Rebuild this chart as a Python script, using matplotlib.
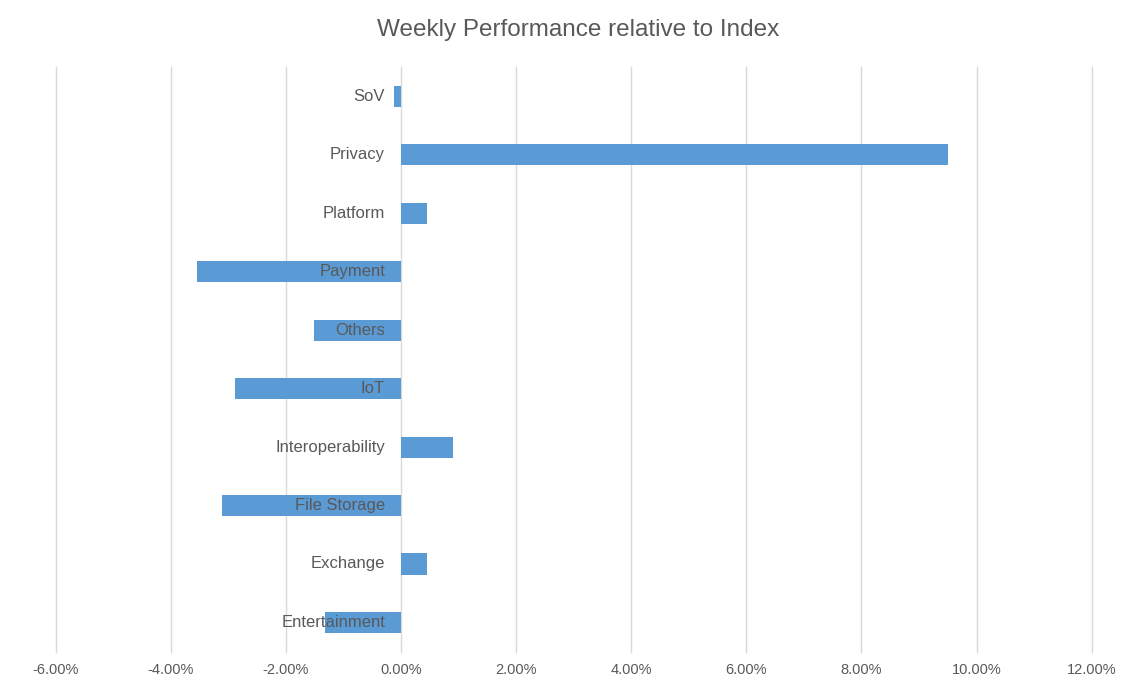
import matplotlib.pyplot as plt
from matplotlib.ticker import FuncFormatter

categories = ["Entertainment", "Exchange", "File Storage", "Interoperability", "IoT",
              "Others", "Payment", "Platform", "Privacy", "SoV"]
values = [-1.32, 0.46, -3.11, 0.90, -2.88, -1.52, -3.54, 0.45, 9.51, -0.13]

fig = plt.figure(figsize=(11.34, 6.95), dpi=100)
ax = fig.add_axes([0.0491, 0.0623, 0.9136, 0.8413])

pos = list(range(len(categories)))
ax.barh(pos, values, height=0.36, color="#5B9BD5", zorder=2)

ax.set_xlim(-6, 12)
ax.set_ylim(-0.5, len(categories) - 0.5)
ax.set_xticks(range(-6, 13, 2))
ax.xaxis.set_major_formatter(FuncFormatter(lambda v, p: "%.2f%%" % v))
ax.set_yticks([])
ax.grid(axis="x", color="#d9d9d9", linewidth=1, zorder=0)
for line in ax.get_xgridlines():
    line.set_clip_on(False)
for s in ax.spines.values():
    s.set_visible(False)
ax.tick_params(axis="x", length=0, pad=8, labelsize=10.5, labelcolor="#595959")
for lab in ax.get_xticklabels():
    lab.set_fontfamily("Liberation Sans")

for y, name in zip(pos, categories):
    ax.annotate(name, xy=(0, y), xytext=(-11.5, 0), textcoords="offset points",
                ha="right", va="center", fontsize=12, color="#595959",
                family="Liberation Sans", zorder=3)

fig.text(0.510, 0.957, "Weekly Performance relative to Index", ha="center", va="center",
         fontsize=17.5, color="#595959", family="Liberation Sans")

fig.savefig("out.png", dpi=100, facecolor="white")
